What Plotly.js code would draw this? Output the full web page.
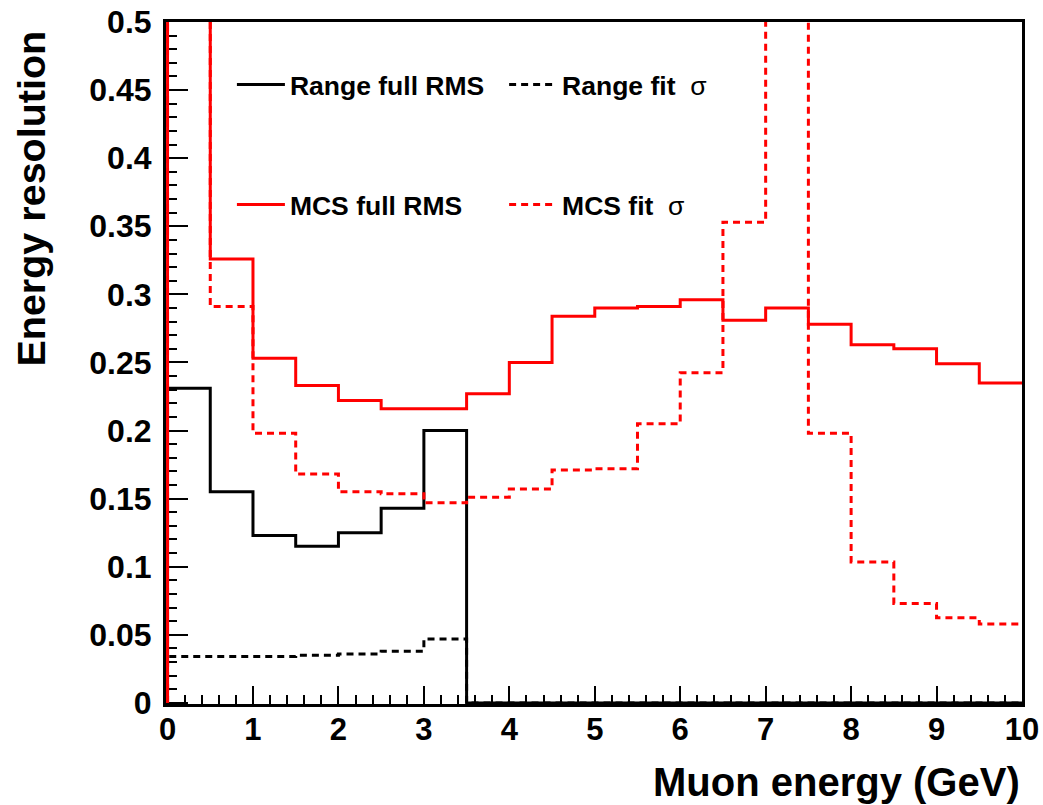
<!DOCTYPE html>
<html>
<head>
<meta charset="utf-8">
<script src="https://cdn.plot.ly/plotly-3.0.1.min.js"></script>
<style>
  html, body { margin: 0; padding: 0; background: #fff; }
  #chart { width: 1043px; height: 805px; }
</style>
</head>
<body>
<div id="chart"></div>
<script>
// Muon energy bins (GeV), 0.5 GeV wide
const binEdges = [0, 0.5, 1, 1.5, 2, 2.5, 3, 3.5, 4, 4.5, 5, 5.5, 6, 6.5, 7, 7.5, 8, 8.5, 9, 9.5, 10];

// Energy resolution per bin
const rangeFullRMS = [0.231, 0.155, 0.123, 0.115, 0.125, 0.143, 0.200, 0, 0, 0, 0, 0, 0, 0, 0, 0, 0, 0, 0, 0];
const rangeFitSigma = [0.034, 0.034, 0.034, 0.035, 0.036, 0.038, 0.047, 0, 0, 0, 0, 0, 0, 0, 0, 0, 0, 0, 0, 0];
const mcsFullRMS = [0.62, 0.326, 0.253, 0.233, 0.222, 0.216, 0.216, 0.227, 0.250, 0.284, 0.290, 0.291, 0.296, 0.281, 0.290, 0.278, 0.263, 0.260, 0.249, 0.235];
const mcsFitSigma = [0.60, 0.291, 0.198, 0.168, 0.155, 0.1535, 0.147, 0.151, 0.157, 0.171, 0.172, 0.205, 0.2425, 0.353, 0.61, 0.198, 0.1035, 0.073, 0.0625, 0.058];

const seriesNames = ['Range full RMS', 'Range fit\u00a0\u00a0<span style="font-weight:normal">σ</span>', 'MCS full RMS', 'MCS fit\u00a0\u00a0<span style="font-weight:normal">σ</span>'];

const xTickVals = [0, 1, 2, 3, 4, 5, 6, 7, 8, 9, 10];
const xTickText = ['0', '1', '2', '3', '4', '5', '6', '7', '8', '9', '10'];
const yTickVals = [0, 0.05, 0.1, 0.15, 0.2, 0.25, 0.3, 0.35, 0.4, 0.45, 0.5];
const yTickText = ['0', '0.05', '0.1', '0.15', '0.2', '0.25', '0.3', '0.35', '0.4', '0.45', '0.5'];

// Outline of a histogram: rises from the baseline at the first edge, then steps bin by bin
function histOutline(edges, values) {
  const x = [edges[0]];
  const y = [0];
  values.forEach((v, i) => {
    x.push(edges[i], edges[i + 1]);
    y.push(v, v);
  });
  return { x, y };
}

const FONT = 'Liberation Sans, Arial, Helvetica, sans-serif';
const DOT = '7px,5px';

function histTrace(values, name, color, dash, legendId) {
  const o = histOutline(binEdges, values);
  return {
    type: 'scatter', mode: 'lines',
    x: o.x, y: o.y,
    name: name,
    legend: legendId,
    line: { color: color, width: 3, dash: dash },
    hoverinfo: 'skip'
  };
}

const traces = [
  histTrace(rangeFullRMS, seriesNames[0], '#000000', 'solid', 'legend'),
  histTrace(rangeFitSigma, seriesNames[1], '#000000', DOT, 'legend2'),
  histTrace(mcsFullRMS, seriesNames[2], '#ff0000', 'solid', 'legend3'),
  histTrace(mcsFitSigma, seriesNames[3], '#ff0000', DOT, 'legend4')
];

function legendBox(x, y) {
  return {
    x: x, y: y, xanchor: 'left', yanchor: 'middle',
    bgcolor: 'rgba(0,0,0,0)', borderwidth: 0,
    font: { family: FONT, size: 26.5, color: '#000', weight: 'bold' },
    itemwidth: 48
  };
}

const layout = {
  width: 1043, height: 805,
  margin: { l: 166, r: 21, t: 22, b: 101 },
  paper_bgcolor: '#fff', plot_bgcolor: '#fff',
  showlegend: true,
  legend: legendBox(0.077, 0.908),
  legend2: legendBox(0.395, 0.908),
  legend3: legendBox(0.077, 0.732),
  legend4: legendBox(0.395, 0.732),
  xaxis: {
    range: [-0.018, 10],
    showline: true, mirror: true, linecolor: '#000', linewidth: 3,
    showgrid: false, zeroline: false, layer: 'below traces',
    ticks: 'inside', ticklen: 18, tickwidth: 2, tickcolor: '#000',
    tickvals: xTickVals, ticktext: xTickText,
    minor: { dtick: 0.2, ticks: 'inside', ticklen: 9, tickwidth: 2, tickcolor: '#000', showgrid: false },
    tickfont: { family: FONT, size: 31, color: '#000', weight: 'bold' },
    ticklabelstandoff: -4
  },
  yaxis: {
    range: [-0.0008, 0.5],
    showline: true, mirror: true, linecolor: '#000', linewidth: 3,
    showgrid: false, zeroline: false, layer: 'below traces',
    ticks: 'inside', ticklen: 22, tickwidth: 2, tickcolor: '#000',
    tickvals: yTickVals, ticktext: yTickText,
    minor: { dtick: 0.01, ticks: 'inside', ticklen: 11, tickwidth: 2, tickcolor: '#000', showgrid: false },
    tickfont: { family: FONT, size: 32, color: '#000', weight: 'bold' },
    ticklabelstandoff: 5
  },
  annotations: [
    {
      text: 'Muon energy (GeV)', xref: 'paper', yref: 'paper',
      x: 1.0, y: -0.115, xanchor: 'right', yanchor: 'middle', showarrow: false,
      font: { family: FONT, size: 40, color: '#000', weight: 'bold' }
    },
    {
      text: 'Energy resolution', xref: 'paper', yref: 'paper', textangle: -90,
      x: -0.158, y: 0.99, xanchor: 'center', yanchor: 'top', showarrow: false,
      font: { family: FONT, size: 39.5, color: '#000', weight: 'bold' }
    }
  ]
};

Plotly.newPlot('chart', traces, layout, { displayModeBar: false, staticPlot: true });
</script>
</body>
</html>
